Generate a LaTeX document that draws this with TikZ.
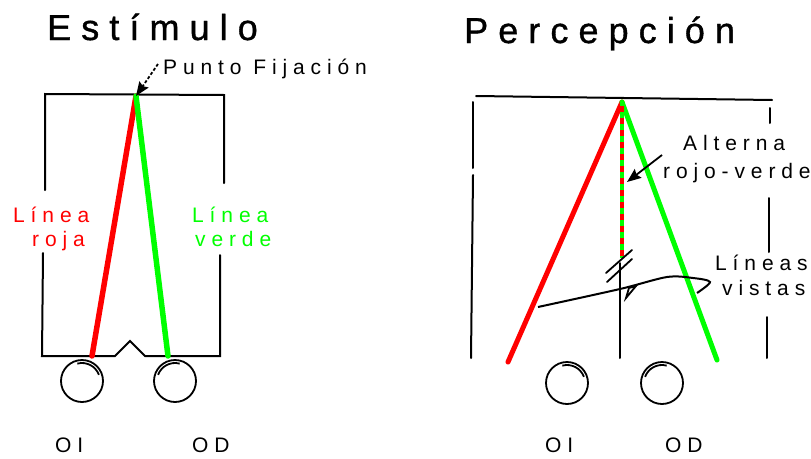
\documentclass[tikz,border=0pt]{standalone}
\usepackage{fontspec}
\newfontfamily\spacedsf[LetterSpace=28]{Liberation Sans}
\newfontfamily\spacedbf[LetterSpace=28,FakeBold=1]{Liberation Sans}
\usepackage{tkz-euclide}
\usetikzlibrary{arrows,arrows.meta,calc}
\definecolor{RojoClr}{rgb}{1,0,0}
\definecolor{VerdeClr}{rgb}{0,1,0}

\begin{document}
\begin{tikzpicture}[x=1pt,y=-1pt,
  titulo/.style={anchor=base west,inner sep=0pt,font=\spacedbf\fontsize{36}{40}\selectfont},
  rotulo/.style={anchor=base west,inner sep=0pt,font=\spacedsf\fontsize{21}{24}\selectfont},
  trazo/.style={line width=2pt,color=black},
  ojo/.style={line width=1.8pt},
  flecha/.style={line width=1.8pt,-{Stealth[length=14pt,width=11pt,inset=2pt]}}]
\useasboundingbox (0,0) rectangle (811,458);
\tkzSetUpLine[line width=2pt,color=black]

% estimulo
\tkzDefPoints{45/190/EA,45/94/EB,224/95/EC,224/183/ED}
\tkzDefPoints{43/253/EE,42/356/EF,115/356/EG,130/341/EH,145/356/EI,220/356/EJ,220/255/EK}
\tkzDefPoints{136/96/EFix,92/356/ERoja,168/356/EVerde,82/381/EOI,175/381/EOD}

\tkzDrawPolySeg[trazo](EA,EB,EC,ED)
\tkzDrawPolySeg[trazo](EE,EF,EG,EH,EI,EJ,EK)
\tkzDrawSegment[line width=5.5pt,color=RojoClr](EFix,ERoja)
\tkzDrawSegment[line width=5.5pt,color=VerdeClr](EFix,EVerde)

\draw[ojo] (EOI) circle[radius=21];
\draw[ojo] ($(EOI)+(-20:18)$) arc[start angle=-20,end angle=-105,radius=18];
\draw[ojo] (EOD) circle[radius=21];
\draw[ojo] ($(EOD)+(-75:18)$) arc[start angle=-75,end angle=-160,radius=18];

\node[titulo] (tEst) at (47,40) {Estímulo};
\node[rotulo] (tFij) at (163,74) {Punto Fijación};
\coordinate (cFij) at (158,64);
\draw[flecha,densely dashed] (cFij) -- (EFix);
\node[rotulo,RojoClr] (tRoja1) at (13,222) {Línea};
\node[rotulo,RojoClr] (tRoja2) at (32,246) {roja};
\node[rotulo,VerdeClr] (tVerde1) at (192,222) {Línea};
\node[rotulo,VerdeClr] (tVerde2) at (195,246) {verde};
\node[rotulo] (tEOI) at (55,452) {OI};
\node[rotulo] (tEOD) at (192,452) {OD};

% percepcion
\tkzDefPoints{476/96/PA,772/100/PB,473/102/PC,473/168/PD,473/175/PE,471/358/PF}
\tkzDefPoints{770/108/PG,770/123/PH,769/198/PI,769/252/PJ,767/317/PK,767/358/PL}
\tkzDefPoints{622/102/PFix,508/362/PRoja,717/360/PVerde,622/258/PAlt,620/263/PM,620/358/PN}
\tkzDefPoints{567/383/POI,662/383/POD}

\tkzDrawSegments[trazo](PA,PB PC,PD PE,PF PG,PH PI,PJ PK,PL PM,PN)
\tkzDrawSegment[line width=5pt,color=RojoClr](PFix,PRoja)
\tkzDrawSegment[line width=5pt,color=VerdeClr](PFix,PVerde)
\draw[line width=4.5pt,VerdeClr] (PFix) -- (PAlt);
\draw[line width=4.5pt,RojoClr,dash pattern=on 6pt off 6pt] ($(PFix)+(0,4)$) -- (PAlt);

% marcas
\tkzDefPoints{606/273/SA,632/250/SB,607/282/SC,632/259/SD}
\tkzDrawSegments[line width=1.8pt](SA,SB SC,SD)
\tkzDefPoints{538/307/VA,620/289/VB,667/277/VC,693/278/VD,710/282/VE,697/293/VF}
\draw[trazo] plot[smooth,tension=.5] coordinates {(VA) (VB) (VC) (VD) (VE) (VF)};
\draw[line width=1.8pt] (626,298) -- (629,288) -- (636,286) -- cycle;

\draw[ojo] (POI) circle[radius=21];
\draw[ojo] ($(POI)+(-20:18)$) arc[start angle=-20,end angle=-105,radius=18];
\draw[ojo] (POD) circle[radius=21];
\draw[ojo] ($(POD)+(-75:18)$) arc[start angle=-75,end angle=-160,radius=18];

\node[titulo] (tPer) at (464,43) {Percepción};
\node[rotulo] (tAlt1) at (683,150) {Alterna};
\node[rotulo] (tAlt2) at (663,178) {rojo-verde};
\coordinate (cAlt) at (662,155);
\coordinate (cAltFin) at (627,182);
\draw[flecha] (cAlt) -- (cAltFin);
\node[rotulo] (tVis1) at (715,270) {Líneas};
\node[rotulo] (tVis2) at (722,295) {vistas};
\node[rotulo] (tPOI) at (545,452) {OI};
\node[rotulo] (tPOD) at (665,452) {OD};

\end{tikzpicture}
\end{document}
